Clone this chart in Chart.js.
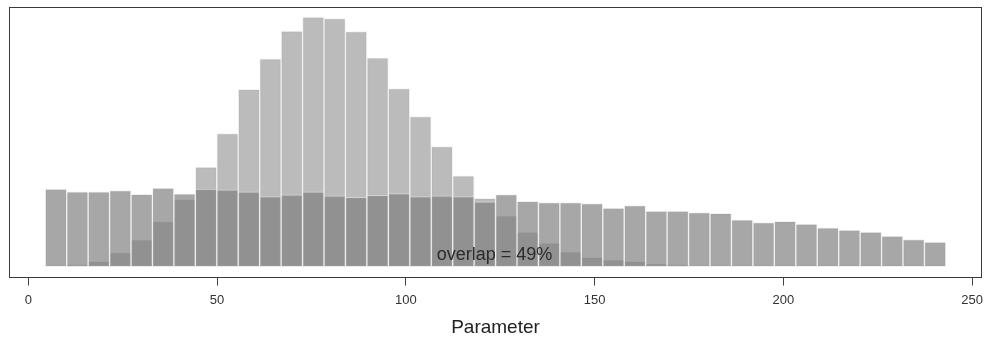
<!DOCTYPE html>
<html>
<head>
<meta charset="utf-8">
<script src="https://cdn.jsdelivr.net/npm/chart.js@4.4.1/dist/chart.umd.min.js"></script>
<style>
  html, body { margin: 0; padding: 0; background: #ffffff; }
  #wrap { width: 985px; height: 341px; position: relative; }
</style>
</head>
<body>
<div id="wrap"><canvas id="c" width="985" height="341"></canvas></div>
<script>
// Bin centres of the histogram (Parameter)
const binCenters = [7.34, 13.02, 18.70, 24.38, 30.06, 35.73, 41.41, 47.09, 52.77, 58.45,
  64.13, 69.81, 75.49, 81.17, 86.85, 92.53, 98.21, 103.89, 109.57, 115.25,
  120.93, 126.61, 132.28, 137.96, 143.64, 149.32, 155.00, 160.68, 166.36, 172.04,
  177.72, 183.40, 189.08, 194.76, 200.44, 206.12, 211.80, 217.48, 223.16, 228.83,
  234.51, 240.19];
// Narrow (peaked) distribution counts
const peakedCounts = [0, 2, 5.3, 14, 26.7, 44.7, 67, 99, 132.3, 176.3,
  206.7, 234.3, 248.3, 246.7, 233.7, 207.7, 177, 149.3, 119.3, 90.3,
  68, 50.5, 34.3, 23.3, 14.7, 9.3, 6.7, 5.3, 3, 2,
  0, 0, 0, 0, 0, 0, 0, 0, 0, 0, 0, 0];
// Broad distribution counts
const broadCounts = [77, 74.3, 74.3, 75.7, 72, 78, 72.3, 77, 76.3, 74.3,
  69.7, 71.3, 74.3, 70.3, 69, 71, 72.7, 69.7, 70.3, 69.7,
  64.5, 71.7, 65, 63.7, 63.7, 62.7, 58.3, 60.7, 55.3, 55.3,
  53.7, 53, 46.5, 43.7, 45, 42.3, 38.7, 36.3, 34.3, 30.3, 27, 24.5];
const xTicks = [0, 50, 100, 150, 200, 250];
const xTitle = 'Parameter';
const overlapLabel = 'overlap = 49%';
const overlapAt = { x: 123.5, y: 7 };

const FONT = "'Liberation Sans', Arial, Helvetica, sans-serif";
const yMaxData = Math.max(...peakedCounts, ...broadCounts);

const boxPlugin = {
  id: 'box',
  afterDraw(chart) {
    const { ctx, chartArea: a } = chart;
    ctx.save();
    ctx.strokeStyle = '#3a3a3a';
    ctx.lineWidth = 1;
    ctx.strokeRect(Math.round(a.left) + 0.5, Math.round(a.top) + 0.5,
      Math.round(a.right - a.left) - 1, Math.round(a.bottom - a.top));
    // annotation
    const xs = chart.scales.x, ys = chart.scales.y;
    ctx.fillStyle = '#2b2b2b';
    ctx.font = '18px ' + FONT;
    ctx.textAlign = 'center';
    ctx.textBaseline = 'alphabetic';
    ctx.fillText(overlapLabel, xs.getPixelForValue(overlapAt.x), ys.getPixelForValue(overlapAt.y));
    ctx.restore();
  }
};

const mk = (arr) => arr.map((v, i) => ({ x: binCenters[i], y: v }));

new Chart(document.getElementById('c'), {
  type: 'bar',
  data: {
    datasets: [
      {
        label: 'broad',
        data: mk(broadCounts),
        backgroundColor: 'rgba(126,126,126,0.68)',
        borderColor: 'rgba(232,232,232,0.55)',
        borderWidth: 1,
        borderSkipped: false,
        grouped: false,
        barPercentage: 1,
        categoryPercentage: 1
      },
      {
        label: 'peaked',
        data: mk(peakedCounts),
        backgroundColor: 'rgba(126,126,126,0.53)',
        borderColor: 'rgba(232,232,232,0.55)',
        borderWidth: 1,
        borderSkipped: false,
        grouped: false,
        barPercentage: 1,
        categoryPercentage: 1
      }
    ]
  },
  options: {
    responsive: false,
    animation: false,
    devicePixelRatio: 1,
    layout: { padding: { left: 9, right: 3, top: 7, bottom: 0 } },
    plugins: { legend: { display: false }, tooltip: { enabled: false } },
    scales: {
      x: {
        type: 'linear',
        min: -5.1,
        max: 252.6,
        offset: false,
        afterBuildTicks(scale) { scale.ticks = xTicks.map(v => ({ value: v })); },
        afterFit(scale) { scale.paddingLeft = 0; scale.paddingRight = 0; },
        ticks: {
          color: '#333333',
          font: { family: FONT, size: 13 },
          padding: 7,
          maxRotation: 0,
          autoSkip: false
        },
        grid: {
          offset: false,
          drawOnChartArea: false,
          drawTicks: true,
          tickLength: 9,
          color: '#444444'
        },
        border: { display: false },
        title: {
          display: true,
          text: xTitle,
          color: '#222222',
          font: { family: FONT, size: 19 },
          padding: { top: 1, bottom: 2 }
        }
      },
      y: {
        display: false,
        min: -0.04 * yMaxData,
        max: 1.04 * yMaxData
      }
    }
  },
  plugins: [boxPlugin]
});
</script>
</body>
</html>
